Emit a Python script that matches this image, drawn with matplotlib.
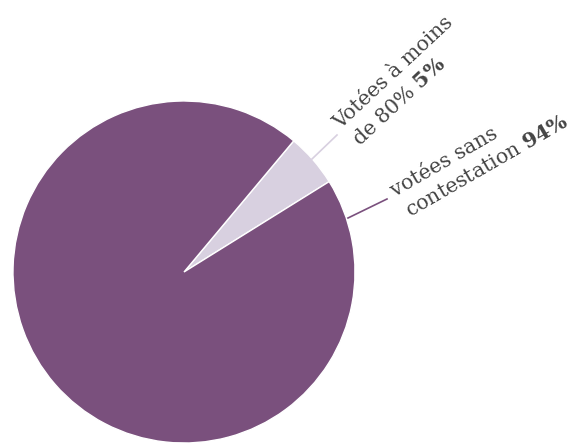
import matplotlib.pyplot as plt

plt.rcParams['mathtext.fontset'] = 'custom'
plt.rcParams['mathtext.rm'] = 'DejaVu Serif'
plt.rcParams['mathtext.bf'] = 'DejaVu Serif:bold'

# parts des résolutions
labels = ["Votées à moins de 80%", "votées sans contestation"]
values = [5, 94]
colors = ["#d8d0e0", "#7a507d"]

W, H = 587, 443
fig = plt.figure(figsize=(W / 100, H / 100), dpi=100)
ax = fig.add_axes([0, 0, 1, 1])

# petite part centrée vers 41°
start = 41 - values[0] / sum(values) * 180
ax.pie(values, colors=colors, startangle=start, counterclock=True,
       center=(184, 171), radius=171, frame=True,
       wedgeprops=dict(edgecolor='white', linewidth=1))
ax.set_xlim(0, W)
ax.set_ylim(0, H)
ax.set_aspect('equal')
ax.axis('off')

# traits de rappel
ax.plot([312, 337], [284, 308], color="#d8d0e0", lw=1.2)
ax.plot([348, 387], [225, 244], color="#7a507d", lw=1.2)

txt = dict(family='DejaVu Serif', fontsize=14.8, color='#444444',
           ha='left', va='baseline', rotation_mode='anchor')
ax.text(340, 313, "Votées à moins", rotation=43, **txt)
ax.text(360, 296, "de 80% $\\mathbf{5\\%}$", rotation=43, **txt)
ax.text(395, 246, "votées sans", rotation=30, **txt)
ax.text(410, 226, "contestation $\\mathbf{94\\%}$", rotation=30, **txt)

fig.savefig("out.png", dpi=100)
